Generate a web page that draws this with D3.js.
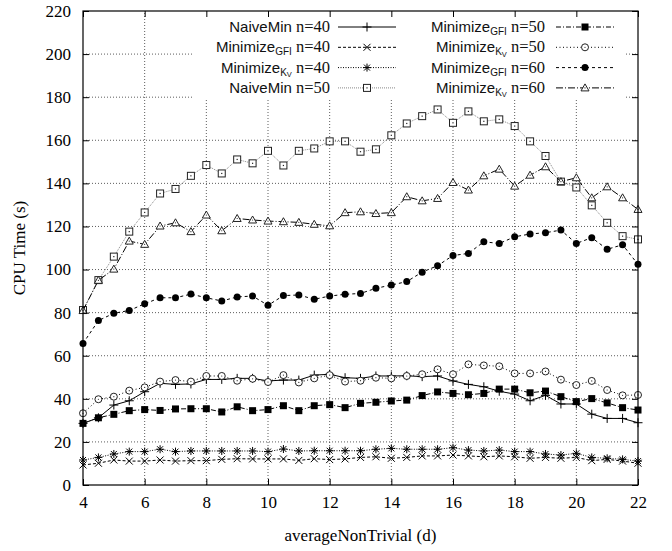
<!DOCTYPE html>
<html>
<head>
<meta charset="utf-8">
<script src="https://cdn.jsdelivr.net/npm/d3@7"></script>
<style>
body { margin: 0; background: #fff; }
.axis text { font-family: "Liberation Serif", "DejaVu Serif", serif; font-size: 17px; fill: #000; }
.axis path { display: none; }
.axis line { stroke: #000; stroke-width: 1; }
.grid line { stroke: #333; stroke-width: 0.8; stroke-dasharray: 1,2; }
.lbl { font-family: "Liberation Serif", serif; font-size: 17px; }
.leg { font-family: "Liberation Sans", sans-serif; font-size: 15px; fill: #111; }
</style>
</head>
<body>
<div class="container"></div>
<script>
// x positions of the measurements (averageNonTrivial d)
var xValues = [4,4.5,5,5.5,6,6.5,7,7.5,8,8.5,9,9.5,10,10.5,11,11.5,12,12.5,13,
	13.5,14,14.5,15,15.5,16,16.5,17,17.5,18,18.5,19,19.5,20,20.5,21,21.5,22];

var naiveMin40 = [28.6,31.2,37.1,39.1,43.3,47.2,46.7,46.9,49,49,49.5,49.5,48.3,48.7,48.7,51,51.4,49.8,49.5,
	50.6,50.6,50.7,50.3,50.6,48.3,46.7,45.6,43.5,42.2,39.1,41.6,37.6,37.6,32.9,30.9,30.9,28.9];
var minGfi40 = [9.3,10.1,11.6,11.1,11.1,11.6,11.1,11.3,11.3,11.9,12.2,12.1,12.1,12.1,11.4,12.2,11.8,12.1,12.8,
	13.1,12.4,12.8,13.5,13.5,13.9,13.5,13.1,13.5,13.1,12.4,12.8,12.4,12.8,11.3,11.9,11.1,10.1];
var minKv40 = [11.6,12.8,14.4,15.5,15.5,16.6,15.5,15.8,15.8,15.8,15.8,15.8,15.5,16.7,15.8,15.9,15.9,15.9,15.9,
	16.6,17,16.6,16.6,16.6,17.3,16.2,15.8,16.2,15.5,15.5,14.4,13.9,14.7,12.8,12.4,11.9,11.1];
var naiveMin50 = [81.2,95.1,106,117.6,126.5,135.3,137.4,143.5,148.5,144.6,151.1,149.3,155.1,148.3,155.1,156.2,159.5,159.5,154.7,
	155.8,162.3,167.8,171.2,174.3,168.1,173.4,168.8,169.7,166.6,159.5,152.7,140.8,138.1,129.8,121.7,115.5,114];
var minGfi50 = [28.6,31.2,32.8,34.5,35,34.6,35.3,35.4,35.4,33.9,36.3,34.5,35,36.8,34.5,36.8,37.3,35.9,37.9,
	38.4,39,39.4,41.5,43.2,42.5,41.9,42.5,44.5,44.5,42.8,43.6,41,38.7,40.1,38.1,35.9,34.8];
var minKv50 = [33.3,39.8,41,43.8,45.3,48,48.7,48,50.6,50.6,48.4,49.3,47.8,51,47.6,49.5,51,48,48.4,
	49.8,49.5,50.6,51.4,53.7,51.4,56,55.5,55.1,51.8,51.8,52.7,48.9,46.4,48.3,44.1,41.6,41.8];
var minGfi60 = [65.7,76.3,79.7,81,84.1,86.9,86.9,88.6,86.9,85.4,87.3,87.7,83.4,87.9,88.2,86.2,87.7,88.5,88.9,
	91.3,92.8,94.4,98.8,101.8,106.5,107.5,112.9,112.1,115.2,116.5,117.1,118.3,112.1,114.8,109.4,111.5,102.4];
var minKv60 = [81,95,100.2,113.2,111.7,120.2,121.7,117.6,125.3,118,123.7,123,122.5,122.2,121.9,121,120.3,126.4,126.8,
	126,126.4,133.8,131.9,133,140.4,136.9,143.5,146.6,138.7,143.8,147.7,140.8,142.6,133.3,138.4,133.3,127.9];

var xTicks = [4,6,8,10,12,14,16,18,20,22];
var yTicks = [0,20,40,60,80,100,120,140,160,180,200,220];

const WIDTH = 672;
const HEIGHT = 551;
const LEFT = 83, RIGHT = 638, TOP = 11, BOTTOM = 485;

var svg, xScale, yScale;

var translate = function(x, y){
	return "translate(" + x + "," + y + ")";
};

// marker shapes, drawn around 0,0
var markers = {
	plus: function(g){ g.append('path').attr('d', 'M-4.5,0H4.5M0,-4.5V4.5').attr('stroke', '#000').attr('fill', 'none'); },
	cross: function(g){ g.append('path').attr('d', 'M-3.5,-3.5L3.5,3.5M-3.5,3.5L3.5,-3.5').attr('stroke', '#000').attr('fill', 'none'); },
	star: function(g){ g.append('path').attr('d', 'M-4,0H4M0,-4V4M-3,-3L3,3M-3,3L3,-3').attr('stroke', '#000').attr('fill', 'none'); },
	openSquare: function(g){
		g.append('rect').attr('x', -3.5).attr('y', -3.5).attr('width', 7).attr('height', 7).attr('fill', '#fff').attr('stroke', '#222');
		g.append('rect').attr('x', -0.6).attr('y', -0.6).attr('width', 1.2).attr('height', 1.2).attr('fill', '#222');
	},
	fillSquare: function(g){ g.append('rect').attr('x', -3.5).attr('y', -3.5).attr('width', 7).attr('height', 7).attr('fill', '#000'); },
	openCircle: function(g){
		g.append('circle').attr('r', 3.5).attr('fill', '#fff').attr('stroke', '#222');
		g.append('circle').attr('r', 0.6).attr('fill', '#222');
	},
	fillCircle: function(g){ g.append('circle').attr('r', 3.5).attr('fill', '#000'); },
	triangle: function(g){
		g.append('path').attr('d', 'M0,-4L4,3H-4Z').attr('fill', '#fff').attr('stroke', '#222');
		g.append('circle').attr('r', 0.6).attr('fill', '#222');
	}
};

var series = [
	{ name: 'NaiveMin', sub: null, n: 40, values: naiveMin40, dash: null, color: '#000', marker: 'plus' },
	{ name: 'Minimize', sub: 'GFI', n: 40, values: minGfi40, dash: '3,2', color: '#000', marker: 'cross' },
	{ name: 'Minimize', sub: 'KV', n: 40, values: minKv40, dash: '1,1.5', color: '#000', marker: 'star' },
	{ name: 'NaiveMin', sub: null, n: 50, values: naiveMin50, dash: '1,1', color: '#888', marker: 'openSquare' },
	{ name: 'Minimize', sub: 'GFI', n: 50, values: minGfi50, dash: '5,2,1,2', color: '#000', marker: 'fillSquare' },
	{ name: 'Minimize', sub: 'KV', n: 50, values: minKv50, dash: '1,2.5', color: '#000', marker: 'openCircle' },
	{ name: 'Minimize', sub: 'GFI', n: 60, values: minGfi60, dash: '3,3', color: '#000', marker: 'fillCircle' },
	{ name: 'Minimize', sub: 'KV', n: 60, values: minKv60, dash: '7,2,1,2', color: '#000', marker: 'triangle' }
];

var loadChart = function(){
	svg = d3.select('.container').append('svg')
		.attr('width', WIDTH)
		.attr('height', HEIGHT);

	xScale = d3.scaleLinear().domain([4, 22]).range([LEFT, RIGHT]);
	yScale = d3.scaleLinear().domain([0, 220]).range([BOTTOM, TOP]);

	// grid
	var grid = svg.append('g').classed('grid', true);
	grid.selectAll('.gx').data(xTicks.slice(1, -1)).enter().append('line')
		.attr('x1', function(d){ return xScale(d); }).attr('x2', function(d){ return xScale(d); })
		.attr('y1', BOTTOM).attr('y2', TOP);
	grid.selectAll('.gy').data(yTicks.slice(1, -1)).enter().append('line')
		.attr('x1', LEFT).attr('x2', RIGHT)
		.attr('y1', function(d){ return yScale(d); }).attr('y2', function(d){ return yScale(d); });

	// legend background hides the grid
	svg.append('rect')
		.attr('x', 194).attr('y', TOP + 1).attr('width', 431).attr('height', 88)
		.attr('fill', '#fff');

	createLines();

	// frame
	svg.append('rect')
		.attr('x', LEFT).attr('y', TOP).attr('width', RIGHT - LEFT).attr('height', BOTTOM - TOP)
		.attr('fill', 'none').attr('stroke', '#000').attr('stroke-width', 1.2);

	svg.append('g').classed('axis', true)
		.attr('transform', translate(0, BOTTOM))
		.call(d3.axisBottom(xScale).tickValues(xTicks).tickSize(-6).tickSizeOuter(0).tickPadding(11));
	svg.append('g').classed('axis', true)
		.attr('transform', translate(LEFT, 0))
		.call(d3.axisLeft(yScale).tickValues(yTicks).tickSize(-6).tickSizeOuter(0).tickPadding(12));
	svg.append('g').classed('axis', true)
		.attr('transform', translate(0, TOP))
		.call(d3.axisTop(xScale).tickValues(xTicks).tickSize(-6).tickSizeOuter(0).tickFormat(''));
	svg.append('g').classed('axis', true)
		.attr('transform', translate(RIGHT, 0))
		.call(d3.axisRight(yScale).tickValues(yTicks).tickSize(-6).tickSizeOuter(0).tickFormat(''));

	svg.append('text').classed('lbl', true)
		.attr('x', (LEFT + RIGHT) / 2).attr('y', 541)
		.attr('text-anchor', 'middle')
		.text('averageNonTrivial (d)');
	svg.append('text').classed('lbl', true)
		.attr('transform', translate(25, (TOP + BOTTOM) / 2) + ' rotate(-90)')
		.attr('text-anchor', 'middle')
		.text('CPU Time (s)');

	createLegend();
};

var createLines = function(){
	var line = d3.line()
		.x(function(d, i){ return xScale(xValues[i]); })
		.y(function(d){ return yScale(d); });

	series.forEach(function(s){
		svg.append('path')
			.attr('d', line(s.values))
			.attr('fill', 'none')
			.attr('stroke', s.color)
			.attr('stroke-width', 1)
			.attr('stroke-dasharray', s.dash);

		svg.append('g').selectAll('g').data(s.values)
			.enter().append('g')
			.attr('transform', function(d, i){ return translate(xScale(xValues[i]), yScale(d)); })
			.each(function(){ markers[s.marker](d3.select(this)); });
	});
};

var createLegend = function(){
	series.forEach(function(s, i){
		var col = Math.floor(i / 4), row = i % 4;
		var textX = col === 0 ? 330 : 545;
		var x0 = col === 0 ? 338 : 556;
		var y = 27 + row * 20.3;

		var t = svg.append('text').classed('leg', true)
			.attr('x', textX).attr('y', y + 5)
			.attr('text-anchor', 'end');
		t.append('tspan').text(s.name);
		if (s.sub === 'GFI') {
			t.append('tspan').attr('font-size', 10).attr('dy', 3).text('GFI');
			t.append('tspan').attr('dy', -3).attr('font-family', 'Liberation Serif, serif').attr('font-size', 16.5).text(' n=' + s.n);
		} else if (s.sub === 'KV') {
			t.append('tspan').attr('font-size', 10).attr('dy', 3).text('K');
			t.append('tspan').attr('font-size', 7.5).attr('dy', 1.5).text('V');
			t.append('tspan').attr('dy', -4.5).attr('font-family', 'Liberation Serif, serif').attr('font-size', 16.5).text(' n=' + s.n);
		} else {
			t.append('tspan').attr('font-family', 'Liberation Serif, serif').attr('font-size', 16.5).text(' n=' + s.n);
		}

		svg.append('line')
			.attr('x1', x0).attr('x2', x0 + 58)
			.attr('y1', y).attr('y2', y)
			.attr('stroke', s.color).attr('stroke-width', 1)
			.attr('stroke-dasharray', s.dash);
		var m = svg.append('g').attr('transform', translate(x0 + 29, y));
		markers[s.marker](m);
	});
};

window.onload = loadChart;
</script>
</body>
</html>
